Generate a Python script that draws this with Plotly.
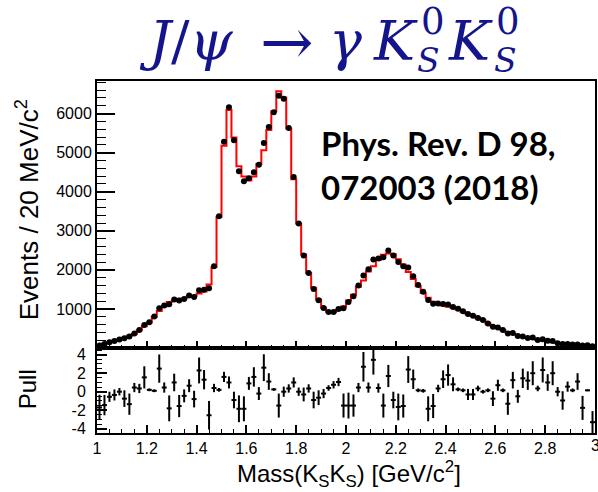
import plotly.graph_objects as go

# ---- binning: 100 bins of 20 MeV from 1.0 to 3.0 GeV ----
mass_lo = 1.0
bin_width = 0.02
n_bins = 100

# events per bin (data points)
data_counts = [
    61, 105, 146, 182, 215, 249, 292, 368, 463, 591,
    658, 804, 1017, 1085, 1119, 1239, 1213, 1256, 1341, 1307,
    1477, 1494, 1528, 2091, 3371, 5283, 6161, 5317, 4523, 4267,
    4344, 4497, 4694, 5249, 5658, 6033, 6460, 6383, 5633, 4379,
    3184, 2365, 1922, 1513, 1221, 1026, 924, 924, 1000, 1020,
    1175, 1323, 1597, 1853, 2015, 2263, 2290, 2322, 2493, 2365,
    2204, 2091, 2058, 1835, 1610, 1440, 1230, 1132, 1140, 1125,
    1111, 1052, 1004, 940, 868, 825, 770, 718, 630, 543,
    522, 458, 374, 386, 308, 292, 258, 266, 206, 224,
    185, 180, 122, 100, 105, 87, 91, 62, 72, 42,
]

# fit result per bin (red histogram)
fit_counts = [
    72, 118, 152, 186, 215, 260, 312, 360, 455, 555,
    655, 800, 945, 1070, 1175, 1205, 1262, 1270, 1318, 1335,
    1392, 1446, 1628, 2075, 3360, 5180, 6095, 5388, 4650, 4392,
    4290, 4392, 4712, 5060, 5580, 6060, 6575, 6410, 5620, 4318,
    3184, 2395, 1920, 1545, 1240, 1030, 930, 920, 980, 1062,
    1215, 1365, 1570, 1730, 1960, 2095, 2255, 2385, 2420, 2400,
    2270, 2140, 1945, 1765, 1580, 1410, 1285, 1182, 1132, 1090,
    1058, 1026, 985, 925, 862, 830, 760, 715, 628, 565,
    508, 455, 405, 365, 325, 290, 258, 230, 205, 183,
    163, 144, 126, 112, 100, 90, 82, 76, 71, 66,
]

# pull per bin and its error
pull_values = [
    -1.7, -1.45, -0.55, -0.35, 0.0, -0.75, -1.35, 0.45, 0.35, 1.55,
    0.2, 0.1, 2.5, 0.45, -1.8, 1.0, -1.55, -0.45, 0.65, -0.8,
    2.3, 1.3, -2.55, 0.4, 0.2, 1.6, 1.0, -0.9, -1.85, -1.85,
    0.9, 1.6, -0.2, 2.6, 1.1, 0.25, -1.5, 0.0, 0.35, 1.0,
    0.0, -0.3, 0.35, -0.9, -0.65, -0.2, 0.4, 0.75, 1.05, -1.5,
    -1.5, -1.5, 0.45, 2.7, 0.45, 3.45, 0.4, -1.5, 1.7, -0.9,
    -1.65, -1.55, 2.4, 1.35, 0.15, 0.1, -1.85, -1.55, 0.35, 1.35,
    1.8, 0.8, 0.25, 0.15, -0.3, -0.3, 0.35, 0.0, 0.15, -0.75,
    0.7, 0.15, -1.3, 1.25, -0.5, 1.45, 1.2, 2.0, 0.35, 2.35,
    1.0, 2.0, 0.0, -0.95, 0.55, 0.15, 1.1, -1.75, 0.15, -3.3,
]
pull_errors = [
    1.37, 1.1, 0.55, 0.6, 0.4, 0.9, 1.15, 0.5, 0.5, 1.2,
    0.15, 0.15, 1.53, 0.55, 1.4, 0.95, 1.2, 0.7, 0.7, 0.9,
    1.4, 1.05, 1.55, 0.45, 0.2, 0.55, 0.65, 0.9, 1.45, 1.35,
    0.7, 1.05, 0.7, 1.45, 0.9, 0.15, 1.3, 0.55, 0.45, 0.55,
    0.45, 0.75, 0.45, 0.9, 0.8, 0.5, 0.3, 0.4, 0.45, 1.3,
    1.4, 1.2, 0.5, 1.6, 0.55, 1.6, 0.5, 1.3, 1.2, 0.9,
    1.45, 1.25, 1.45, 1.05, 0.2, 0.2, 1.35, 1.3, 0.4, 0.95,
    1.15, 0.75, 0.2, 0.2, 0.6, 0.6, 0.3, 0.2, 0.2, 0.8,
    0.6, 0.2, 1.2, 0.9, 0.7, 1.05, 1.0, 1.3, 0.3, 1.35,
    0.9, 1.3, 0.5, 1.0, 0.55, 0.2, 0.9, 1.3, 0.1, 1.2,
]

x_ticks = [1.0, 1.2, 1.4, 1.6, 1.8, 2.0, 2.2, 2.4, 2.6, 2.8]
x_tick_text = ["1", "1.2", "1.4", "1.6", "1.8", "2", "2.2", "2.4", "2.6", "2.8"]
x_last_tick = 3.0
x_last_text = "3"
y_ticks = [1000, 2000, 3000, 4000, 5000, 6000]
pull_ticks = [-4, -2, 0, 2, 4]
pull_tick_text = ["-4", "-2", "0", "2", "4"]

# ---- derived bin geometry ----
edges = [mass_lo + bin_width * i for i in range(n_bins + 1)]
centers = [mass_lo + bin_width * (i + 0.5) for i in range(n_bins)]

# ---- page geometry ----
W, H = 598, 492
ML, MR, MT, MB = 97, 1, 81, 59
PW, PH = W - ML - MR, H - MT - MB
split = 85 / PH  # fraction of the plot height used by the pull pad


def px(x):
    return (x - ML) / PW


def py(y):
    return (H - MB - y) / PH


fig = go.Figure()

# fit histogram as a step line
fig.add_trace(go.Scatter(
    x=edges, y=fit_counts + [fit_counts[-1]],
    mode="lines", line=dict(color="#ff0000", width=2, shape="hv"),
    xaxis="x2", yaxis="y", showlegend=False, hoverinfo="skip",
))

# data points
fig.add_trace(go.Scatter(
    x=centers, y=data_counts, mode="markers",
    marker=dict(color="black", size=6),
    xaxis="x2", yaxis="y", showlegend=False,
))

# pulls with error bars
fig.add_trace(go.Scatter(
    x=centers, y=pull_values, mode="markers",
    marker=dict(color="black", size=1),
    error_y=dict(type="data", array=pull_errors, width=0, thickness=2, color="black"),
    error_x=dict(type="constant", value=bin_width / 2, width=0, thickness=2, color="black"),
    xaxis="x", yaxis="y2", showlegend=False,
))

sans = "Liberation Sans, Arial, sans-serif"
tick_font = dict(family=sans, size=16, color="black")
frame = dict(showline=True, linecolor="black", linewidth=2, mirror=True,
             showgrid=False, zeroline=False)

fig.update_layout(
    width=W, height=H,
    margin=dict(l=ML, r=MR, t=MT, b=MB, pad=0),
    paper_bgcolor="white", plot_bgcolor="white",
    xaxis=dict(
        domain=[0, 1], anchor="y2", range=[1.0, 3.0],
        tickmode="array", tickvals=x_ticks, ticktext=x_tick_text,
        ticks="inside", ticklen=8, tickwidth=1.5, tickcolor="black",
        minor=dict(ticks="inside", ticklen=4, tickwidth=1.2, tickcolor="black",
                   tickmode="linear", tick0=1.0, dtick=0.05),
        tickfont=tick_font, ticklabelstandoff=0, **frame,
    ),
    xaxis2=dict(
        domain=[0, 1], anchor="y", range=[1.0, 3.0], matches="x",
        tickmode="array", tickvals=x_ticks, showticklabels=False,
        ticks="inside", ticklen=7, tickwidth=1.5, tickcolor="black",
        minor=dict(ticks="inside", ticklen=3.5, tickwidth=1.2, tickcolor="black",
                   tickmode="linear", tick0=1.0, dtick=0.05),
        **frame,
    ),
    yaxis=dict(
        domain=[split, 1], anchor="x2", range=[0, 6835],
        tickmode="array", tickvals=y_ticks,
        ticks="inside", ticklen=18, tickwidth=1.5, tickcolor="black",
        minor=dict(ticks="inside", ticklen=9, tickwidth=1.2, tickcolor="black",
                   tickmode="linear", tick0=0, dtick=200),
        tickfont=tick_font, **frame,
    ),
    yaxis2=dict(
        domain=[0, split], anchor="x", range=[-4.47, 4.73],
        tickmode="array", tickvals=pull_ticks, ticktext=pull_tick_text,
        ticks="inside", ticklen=10, tickwidth=1.5, tickcolor="black",
        minor=dict(ticks="inside", ticklen=5, tickwidth=1.2, tickcolor="black",
                   tickmode="linear", tick0=0, dtick=0.5),
        tickfont=tick_font, ticklabelstandoff=6, **frame,
    ),
)

ann = []
label_font = dict(family=sans, size=24, color="black")
ann.append(dict(text="Events / 20 MeV/c<sup>2</sup>", x=px(27), y=py(210),
                textangle=-90, font=dict(family=sans, size=26, color="black")))
ann.append(dict(text="Pull", x=px(27), y=py(389), textangle=-90, font=label_font))
ann.append(dict(text="Mass(K<sub>S</sub>K<sub>S</sub>) [GeV/c<sup>2</sup>]",
                x=px(350), y=py(474), font=label_font))
# last x tick label sits on the right page edge
ann.append(dict(text=x_last_text, x=x_last_tick, xref="x", y=py(445),
                font=tick_font))

# reference label
ref_font = dict(family="Lato, Open Sans, sans-serif", size=33, color="black")
ann.append(dict(text="<b>Phys. Rev. D 98,</b>", x=px(320), xanchor="left",
                y=py(143), font=ref_font))
ann.append(dict(text="<b>072003 (2018)</b>", x=px(320), xanchor="left",
                y=py(187), font=ref_font))

# decay title built in pieces so sub/superscripts stack
navy = "#14148c"
serif = "DejaVu Serif, Liberation Serif, serif"
big = dict(family=serif, size=55, color=navy)
arrow = dict(family=serif, size=64, color=navy)
sup = dict(family=serif, size=37, color=navy)
sub = dict(family=serif, size=33, color=navy)
title_pieces = [
    ("<i>J</i>/<i>ψ</i>", 187, 41, big),
    ("→", 288, 42, arrow),
    ("<i>γ</i>", 346, 41, big),
    ("<i>K</i>", 397, 41, big),
    ("0", 434, 22, sup),
    ("<i>S</i>", 430, 61, sub),
    ("<i>K</i>", 472, 41, big),
    ("0", 510, 22, sup),
    ("<i>S</i>", 507, 61, sub),
]
for txt, cx, cy, f in title_pieces:
    ann.append(dict(text=txt, x=px(cx), y=py(cy), font=f))

for a in ann:
    a.setdefault("xref", "paper")
    a.setdefault("yref", "paper")
    a.setdefault("showarrow", False)
    a.setdefault("xanchor", "center")
    a.setdefault("yanchor", "middle")
fig.update_layout(annotations=ann)

fig.write_html("out.html")
